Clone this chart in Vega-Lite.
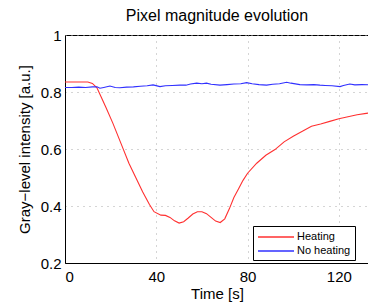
{
  "$schema": "https://vega.github.io/schema/vega-lite/v6.json",
  "autosize": {"type": "none"},
  "width": 304,
  "height": 228,
  "padding": {"left": 65, "top": 35, "right": 0, "bottom": 45},
  "background": "white",
  "config": {
    "font": "Liberation Sans",
    "view": {"stroke": "black", "strokeWidth": 1},
    "axis": {
      "domainColor": "black",
      "labelColor": "black",
      "titleColor": "black",
      "labelFontSize": 15,
      "titleFontSize": 15,
      "titleFontWeight": "normal",
      "ticks": false,
      "gridColor": "#aaaaaa",
      "gridDash": [1, 5],
      "gridWidth": 1,
      "gridOpacity": 1
    }
  },
  "title": {
    "text": "Pixel magnitude evolution",
    "fontSize": 16,
    "fontWeight": "normal",
    "color": "black",
    "anchor": "middle",
    "offset": 4
  },
  "data": {
    "values": [
      {"t": 0, "v": 0.835, "s": "Heating"},
      {"t": 10, "v": 0.835, "s": "Heating"},
      {"t": 12, "v": 0.83, "s": "Heating"},
      {"t": 14, "v": 0.815, "s": "Heating"},
      {"t": 16, "v": 0.78, "s": "Heating"},
      {"t": 18, "v": 0.745, "s": "Heating"},
      {"t": 21, "v": 0.69, "s": "Heating"},
      {"t": 25, "v": 0.61, "s": "Heating"},
      {"t": 28, "v": 0.55, "s": "Heating"},
      {"t": 31, "v": 0.5, "s": "Heating"},
      {"t": 34, "v": 0.45, "s": "Heating"},
      {"t": 37, "v": 0.405, "s": "Heating"},
      {"t": 39, "v": 0.38, "s": "Heating"},
      {"t": 42, "v": 0.368, "s": "Heating"},
      {"t": 44, "v": 0.367, "s": "Heating"},
      {"t": 46, "v": 0.36, "s": "Heating"},
      {"t": 48, "v": 0.348, "s": "Heating"},
      {"t": 50, "v": 0.34, "s": "Heating"},
      {"t": 52, "v": 0.345, "s": "Heating"},
      {"t": 54, "v": 0.358, "s": "Heating"},
      {"t": 56, "v": 0.372, "s": "Heating"},
      {"t": 58, "v": 0.38, "s": "Heating"},
      {"t": 60, "v": 0.38, "s": "Heating"},
      {"t": 62, "v": 0.373, "s": "Heating"},
      {"t": 64, "v": 0.36, "s": "Heating"},
      {"t": 66, "v": 0.347, "s": "Heating"},
      {"t": 68, "v": 0.342, "s": "Heating"},
      {"t": 70, "v": 0.355, "s": "Heating"},
      {"t": 72, "v": 0.39, "s": "Heating"},
      {"t": 74, "v": 0.43, "s": "Heating"},
      {"t": 76, "v": 0.46, "s": "Heating"},
      {"t": 78, "v": 0.49, "s": "Heating"},
      {"t": 80, "v": 0.515, "s": "Heating"},
      {"t": 84, "v": 0.55, "s": "Heating"},
      {"t": 88, "v": 0.578, "s": "Heating"},
      {"t": 92, "v": 0.598, "s": "Heating"},
      {"t": 96, "v": 0.625, "s": "Heating"},
      {"t": 100, "v": 0.645, "s": "Heating"},
      {"t": 104, "v": 0.662, "s": "Heating"},
      {"t": 108, "v": 0.68, "s": "Heating"},
      {"t": 112, "v": 0.688, "s": "Heating"},
      {"t": 116, "v": 0.697, "s": "Heating"},
      {"t": 120, "v": 0.706, "s": "Heating"},
      {"t": 124, "v": 0.713, "s": "Heating"},
      {"t": 128, "v": 0.72, "s": "Heating"},
      {"t": 132, "v": 0.725, "s": "Heating"},
      {"t": 134, "v": 0.727, "s": "Heating"},
      {"t": 0, "v": 0.816, "s": "No heating"},
      {"t": 3, "v": 0.816, "s": "No heating"},
      {"t": 6, "v": 0.817, "s": "No heating"},
      {"t": 9, "v": 0.816, "s": "No heating"},
      {"t": 12, "v": 0.818, "s": "No heating"},
      {"t": 14, "v": 0.818, "s": "No heating"},
      {"t": 15.3, "v": 0.813, "s": "No heating"},
      {"t": 17, "v": 0.816, "s": "No heating"},
      {"t": 19.7, "v": 0.821, "s": "No heating"},
      {"t": 22, "v": 0.816, "s": "No heating"},
      {"t": 24, "v": 0.815, "s": "No heating"},
      {"t": 27, "v": 0.817, "s": "No heating"},
      {"t": 30, "v": 0.818, "s": "No heating"},
      {"t": 33, "v": 0.82, "s": "No heating"},
      {"t": 36, "v": 0.822, "s": "No heating"},
      {"t": 38.6, "v": 0.825, "s": "No heating"},
      {"t": 41.6, "v": 0.819, "s": "No heating"},
      {"t": 44, "v": 0.822, "s": "No heating"},
      {"t": 47, "v": 0.823, "s": "No heating"},
      {"t": 50.4, "v": 0.824, "s": "No heating"},
      {"t": 53, "v": 0.824, "s": "No heating"},
      {"t": 55, "v": 0.828, "s": "No heating"},
      {"t": 57.7, "v": 0.831, "s": "No heating"},
      {"t": 60, "v": 0.829, "s": "No heating"},
      {"t": 62, "v": 0.831, "s": "No heating"},
      {"t": 64, "v": 0.827, "s": "No heating"},
      {"t": 67.9, "v": 0.824, "s": "No heating"},
      {"t": 71, "v": 0.826, "s": "No heating"},
      {"t": 74, "v": 0.828, "s": "No heating"},
      {"t": 77, "v": 0.829, "s": "No heating"},
      {"t": 79.6, "v": 0.833, "s": "No heating"},
      {"t": 82, "v": 0.829, "s": "No heating"},
      {"t": 85, "v": 0.826, "s": "No heating"},
      {"t": 88.3, "v": 0.824, "s": "No heating"},
      {"t": 91, "v": 0.827, "s": "No heating"},
      {"t": 94, "v": 0.829, "s": "No heating"},
      {"t": 97.1, "v": 0.834, "s": "No heating"},
      {"t": 99, "v": 0.831, "s": "No heating"},
      {"t": 102.9, "v": 0.826, "s": "No heating"},
      {"t": 106, "v": 0.825, "s": "No heating"},
      {"t": 109, "v": 0.826, "s": "No heating"},
      {"t": 111.7, "v": 0.824, "s": "No heating"},
      {"t": 114, "v": 0.823, "s": "No heating"},
      {"t": 117, "v": 0.822, "s": "No heating"},
      {"t": 120.5, "v": 0.819, "s": "No heating"},
      {"t": 122, "v": 0.823, "s": "No heating"},
      {"t": 124.8, "v": 0.828, "s": "No heating"},
      {"t": 127, "v": 0.825, "s": "No heating"},
      {"t": 130, "v": 0.826, "s": "No heating"},
      {"t": 134, "v": 0.825, "s": "No heating"}
    ]
  },
  "mark": {"type": "line", "strokeWidth": 1.1, "clip": true},
  "encoding": {
    "x": {
      "field": "t",
      "type": "quantitative",
      "scale": {"domain": [0, 133.2], "nice": false, "zero": false},
      "axis": {"values": [0, 40, 80, 120], "title": "Time [s]", "labelPadding": 6, "titlePadding": 2}
    },
    "y": {
      "field": "v",
      "type": "quantitative",
      "scale": {"domain": [0.2, 1], "nice": false, "zero": false},
      "axis": {
        "values": [0.2, 0.4, 0.6, 0.8, 1],
        "labelExpr": "datum.value == 1 ? '1' : format(datum.value, '.1f')",
        "title": "Gray−level intensity [a.u.]",
        "labelPadding": 4,
        "titlePadding": 8
      }
    },
    "color": {
      "field": "s",
      "type": "nominal",
      "scale": {"domain": ["Heating", "No heating"], "range": ["#ff3030", "#3030ff"]},
      "legend": {
        "title": null,
        "orient": "none",
        "legendX": 188,
        "legendY": 191,
        "direction": "vertical",
        "fillColor": "white",
        "strokeColor": "black",
        "padding": 4,
        "symbolType": "M-1,0H5",
        "symbolSize": 144,
        "symbolStrokeWidth": 1.5,
        "labelFontSize": 11,
        "labelColor": "black",
        "labelOffset": 26,
        "rowPadding": 2
      }
    }
  }
}
